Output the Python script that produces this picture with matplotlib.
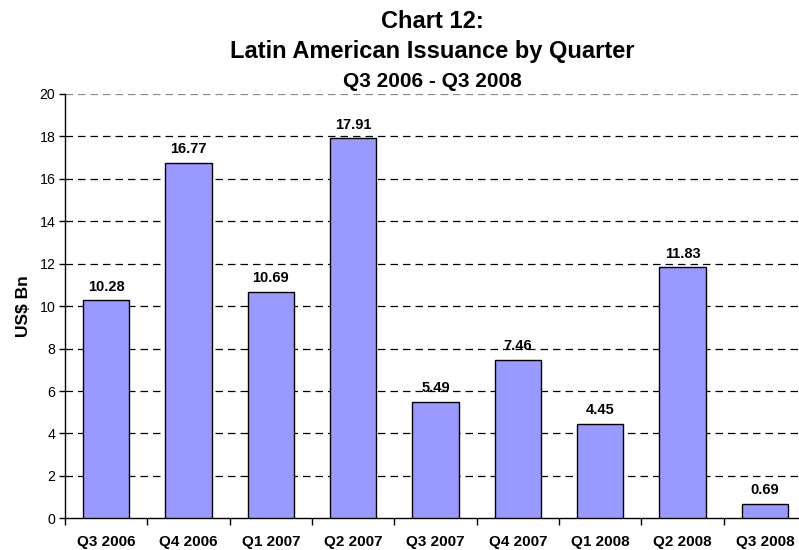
import matplotlib
matplotlib.use("Agg")
import matplotlib.pyplot as plt

plt.rcParams['font.family'] = ['Liberation Sans', 'DejaVu Sans']

categories = ["Q3 2006", "Q4 2006", "Q1 2007", "Q2 2007", "Q3 2007",
              "Q4 2007", "Q1 2008", "Q2 2008", "Q3 2008"]
values = [10.28, 16.77, 10.69, 17.91, 5.49, 7.46, 4.45, 11.83, 0.69]
yticks = [0, 2, 4, 6, 8, 10, 12, 14, 16, 18, 20]

fig = plt.figure(figsize=(7.99, 5.5), dpi=100)
ax = fig.add_axes([65/799, 1 - 518.3/550, (806 - 65)/799, (518.3 - 94)/550])

x = list(range(len(categories)))
bars = ax.bar(x, values, width=0.56, color='#9999FF', edgecolor='black', linewidth=1.0, zorder=3)
for xi, v in zip(x, values):
    ax.text(xi, v + 0.45, f"{v:.2f}", ha='center', va='baseline', fontsize=10.5, fontweight='bold')

ax.set_xlim(-0.5, len(categories) - 0.5)
ax.set_ylim(0, 20)
ax.set_yticks(yticks)
ax.set_yticklabels([str(t) for t in yticks], fontsize=10.2)
ax.set_xticks([i - 0.5 for i in range(len(categories) + 1)])
ax.set_xticklabels([])
ax.set_xticks(x, minor=True)
ax.set_xticklabels(categories, minor=True, fontsize=11, fontweight='bold')
ax.tick_params(axis='x', which='minor', length=0, pad=12)
ax.tick_params(axis='x', which='major', length=5, direction='out', width=1)
ax.tick_params(axis='y', length=4, direction='out', width=1, pad=3)

for t in yticks[1:]:
    ax.axhline(t, color='black' if t < 20 else '#888888', linestyle=(0, (6, 4)), linewidth=0.9, zorder=1)

for s in ['top', 'right']:
    ax.spines[s].set_visible(False)
ax.spines['left'].set_linewidth(1)
ax.spines['bottom'].set_linewidth(1)

ax.set_ylabel("US$ Bn", fontsize=12.5, fontweight='bold', labelpad=6)

cx = 432/799
fig.text(cx, 1 - 28.5/550, "Chart 12:", ha='center', va='baseline', fontsize=17, fontweight='bold')
fig.text(cx, 1 - 58/550, "Latin American Issuance by Quarter", ha='center', va='baseline', fontsize=17, fontweight='bold')
fig.text(cx, 1 - 87/550, "Q3 2006 - Q3 2008", ha='center', va='baseline', fontsize=15, fontweight='bold')

fig.savefig("out.png", dpi=100)
